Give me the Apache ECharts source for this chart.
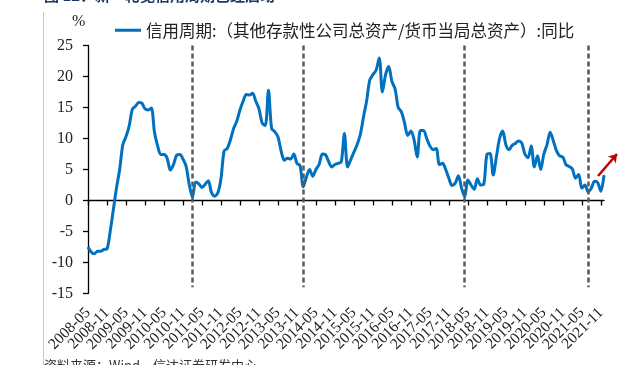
<!DOCTYPE html>
<html>
<head>
<meta charset="utf-8">
<script src="https://cdn.jsdelivr.net/npm/echarts@6/dist/echarts.min.js"></script>
<style>
  html, body { margin: 0; padding: 0; background: #fff; }
  #chart { width: 640px; height: 365px; }
</style>
</head>
<body>
<div id="chart"></div>
<script>
// monthly data, 2008-05 .. 2021-12
const startYear  = 2008;
const startMonth = 5;
const values = [
    -7.5, -8.3, -8.6, -8.2, -8.2, -7.9, -7.8, -5.0, -1.5, 2.0, 5.0, 9.0,
    10.3, 12.0, 14.7, 15.2, 15.8, 15.7, 14.8, 14.6, 14.9, 11.0, 8.8, 7.4,
    7.4, 6.8, 4.9, 5.8, 7.3, 7.4, 6.7, 5.5, 2.5, 0.5, 3.0, 2.7,
    2.1, 2.6, 3.2, 1.3, 0.7, 1.2, 3.5, 8.0, 8.4, 9.8, 11.6, 12.8,
    14.6, 16.0, 17.1, 17.0, 17.3, 16.0, 14.8, 12.5, 12.1, 17.8, 11.6, 11.1,
    10.3, 8.0, 6.5, 6.8, 6.7, 7.5, 6.0, 5.6, 2.2, 3.8, 5.0, 3.9,
    5.0, 5.8, 7.5, 7.4, 6.3, 5.4, 5.8, 6.0, 6.2, 10.8, 5.4, 6.6,
    7.8, 9.0, 10.6, 13.4, 16.0, 19.4, 20.3, 21.0, 23.0, 17.5, 20.3, 21.6,
    19.2, 18.0, 15.0, 14.3, 12.5, 10.5, 11.2, 9.8, 7.0, 11.3, 11.3, 10.0,
    8.8, 8.2, 8.4, 5.8, 6.0, 5.0, 3.6, 2.4, 2.8, 4.0, 2.0, 0.6,
    3.3, 2.5, 1.8, 3.5, 2.5, 2.6, 7.4, 7.6, 4.1, 7.0, 10.0, 11.2,
    9.0, 8.2, 8.9, 9.2, 9.6, 9.3, 7.5, 6.9, 8.8, 5.4, 7.2, 5.0,
    7.5, 9.0, 11.0, 9.6, 8.0, 7.2, 7.0, 5.8, 5.5, 5.1, 3.6, 4.2,
    2.0, 2.5, 1.4, 2.0, 3.1, 2.9, 1.5, 4.1
];
// cycle troughs (dashed lines)
const cycleMarks = ['2011-02', '2014-01', '2018-04', '2021-07'];

const seriesName = '信用周期:（其他存款性公司总资产/货币当局总资产）:同比';

let months = [];
for (let i = 0; i < values.length; i++) {
    const t = startMonth - 1 + i;
    const y = startYear + Math.floor(t / 12);
    const m = (t % 12) + 1;
    months.push(`${y}-${m < 10 ? '0' + m : m}`);
}

const serif = '"Liberation Serif", "Times New Roman", serif';
const cjk   = '"Noto Sans CJK SC", sans-serif';
const every6 = (idx) => idx % 6 === 0;

document.addEventListener('DOMContentLoaded', () => {
    const ch = echarts.init(document.getElementById('chart'), null, { renderer: 'canvas' });

    const option = {
        animation: false,
        backgroundColor: '#fff',
        grid: { left: 88, right: 36, top: 45.5, bottom: 71.5, containLabel: false, outerBoundsMode: 'none' },
        legend: {
            left: 110, top: 17,
            icon: 'rect', itemWidth: 26, itemHeight: 3, itemGap: 5,
            textStyle: { fontFamily: cjk, fontSize: 16.5, color: '#222' },
            data: [seriesName]
        },
        graphic: [
            { type: 'line', shape: { x1: 43.5, y1: 12, x2: 43.5, y2: 365 },
              style: { stroke: '#c8c8c8', lineWidth: 1 } },
            { type: 'text', left: 44, top: -12,
              style: { text: '图 12：新一轮宽信用周期已经启动', font: 'bold 15px "Noto Sans CJK SC"', fill: '#1f3864' } },
            { type: 'text', left: 72, top: 14,
              style: { text: '%', font: '16px "Liberation Serif"', fill: '#222' } },
            { type: 'text', left: 44, top: 359,
              style: { text: '资料来源：Wind，信达证券研发中心', font: '13px "Noto Sans CJK SC"', fill: '#333' } }
        ],
        xAxis: [
            {
                type: 'category', data: months, boundaryGap: false,
                axisLine: { onZero: true, lineStyle: { color: '#000', width: 1.3 } },
                axisTick: { show: true, interval: every6, length: 5, lineStyle: { color: '#000', width: 1.3 } },
                axisLabel: { show: false },
                splitLine: { show: false }
            },
            {
                // labels only, at the bottom of the plot
                type: 'category', data: months, boundaryGap: false, position: 'bottom',
                axisLine: { show: false, onZero: false },
                axisTick: { show: false },
                axisLabel: {
                    interval: 0, rotate: 45, margin: 17, hideOverlap: false,
                    formatter: (val, idx) => (every6(idx) ? val : ''),
                    fontFamily: serif, fontSize: 15.5, color: '#222'
                },
                splitLine: { show: false }
            }
        ],
        yAxis: {
            type: 'value', min: -15, max: 25, interval: 5,
            axisLine: { show: true, lineStyle: { color: '#000', width: 1.3 } },
            axisTick: { show: true, length: 5, lineStyle: { color: '#000', width: 1.3 } },
            axisLabel: { margin: 15, fontFamily: serif, fontSize: 16, color: '#222' },
            splitLine: { show: false }
        },
        series: [{
            name: seriesName,
            type: 'line',
            xAxisIndex: 0,
            data: values,
            smooth: 0.3,
            symbol: 'none',
            lineStyle: { color: '#0070c0', width: 3 },
            itemStyle: { color: '#0070c0' },
            markLine: {
                silent: true,
                animation: false,
                symbol: ['none', 'none'],
                label: { show: false },
                lineStyle: { color: '#595959', width: 2.5, type: [5, 3] },
                data: cycleMarks.map((c) => [
                    { coord: [c, 25] },
                    { coord: [c, -14] }
                ]).concat([[
                    { x: 598, y: 176, symbol: 'none',
                      lineStyle: { color: '#c00000', width: 2.5, type: 'solid' } },
                    { x: 617, y: 154, symbol: 'arrow', symbolSize: 8 }
                ]])
            }
        }]
    };
    ch.setOption(option);
});
</script>
</body>
</html>
